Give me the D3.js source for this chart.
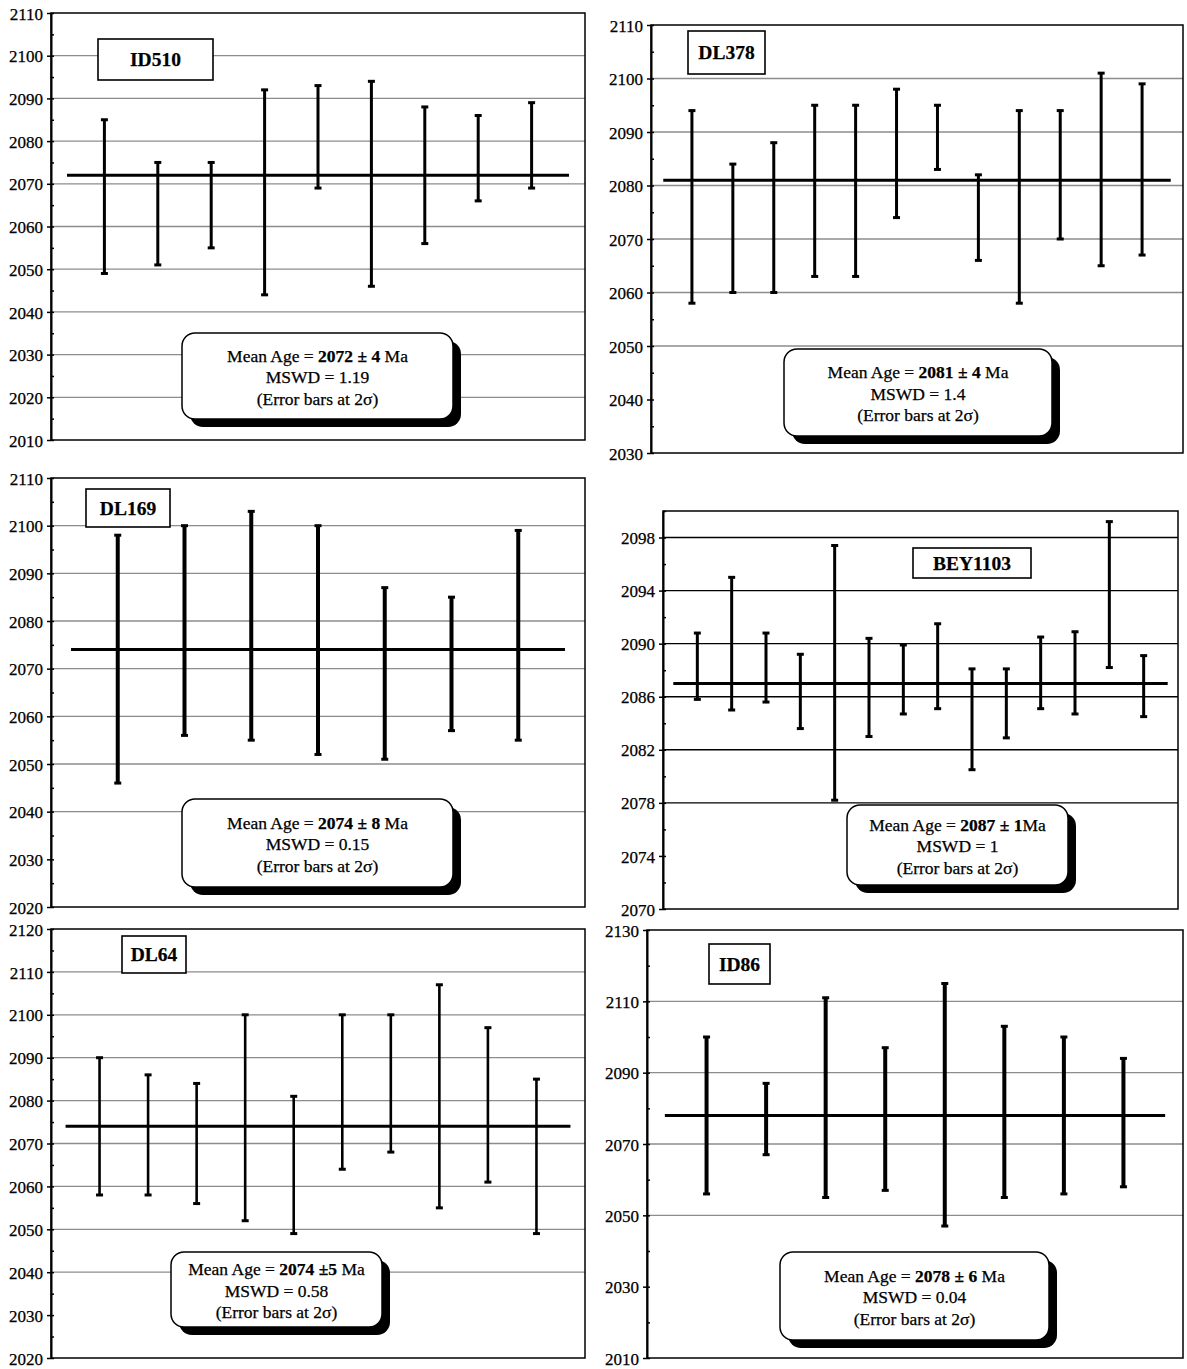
<!DOCTYPE html>
<html>
<head>
<meta charset="utf-8">
<script src="https://cdn.jsdelivr.net/npm/d3@7"></script>
<style>
  body { margin: 0; background: #fff; }
  svg { display: block; }
  text { font-family: "Liberation Serif", "Times New Roman", serif; fill: #000; stroke: #000; stroke-width: 0.25px; }
</style>
</head>
<body>
<svg id="fig" width="1187" height="1369"></svg>
<script>
// ---- Zircon spot ages (Ma): 2-sigma lower / upper limits per analysis ----
const sampleNames = ["ID510", "DL378", "DL169", "BEY1103", "DL64", "ID86"];

const id510Low  = [2049, 2051, 2055, 2044, 2069, 2046, 2056, 2066, 2069];
const id510High = [2085, 2075, 2075, 2092, 2093, 2094, 2088, 2086, 2089];

const dl378Low  = [2058, 2060, 2060, 2063, 2063, 2074, 2083, 2066, 2058, 2070, 2065, 2067];
const dl378High = [2094, 2084, 2088, 2095, 2095, 2098, 2095, 2082, 2094, 2094, 2101, 2099];

const dl169Low  = [2046, 2056, 2055, 2052, 2051, 2057, 2055];
const dl169High = [2098, 2100, 2103, 2100, 2087, 2085, 2099];

const bey1103Low  = [2085.8, 2085.0, 2085.6, 2083.6, 2078.2, 2083.0, 2084.7, 2085.1, 2080.5, 2082.9, 2085.1, 2084.7, 2088.2, 2084.5];
const bey1103High = [2090.8, 2095.0, 2090.8, 2089.2, 2097.4, 2090.4, 2089.9, 2091.5, 2088.1, 2088.1, 2090.5, 2090.9, 2099.2, 2089.1];

const dl64Low  = [2058, 2058, 2056, 2052, 2049, 2064, 2068, 2055, 2061, 2049];
const dl64High = [2090, 2086, 2084, 2100, 2081, 2100, 2100, 2107, 2097, 2085];

const id86Low  = [2056, 2067, 2055, 2057, 2047, 2055, 2056, 2058];
const id86High = [2100, 2087, 2111, 2097, 2115, 2103, 2100, 2094];

// ---- Weighted mean results ----
const meanAges = [2072, 2081, 2074, 2087, 2074, 2078];
const meanErrText = ["2072 \u00b1 4", "2081 \u00b1 4", "2074 \u00b1 8", "2087 \u00b1 1", "2074 \u00b15", "2078 \u00b1 6"];
const unitText = [" Ma", " Ma", " Ma", "Ma", " Ma", " Ma"];
const mswdValues = ["1.19", "1.4", "0.15", "1", "0.58", "0.04"];

// ---- Axis extents, tick labels and gridlines ----
const yDomains = [[2010, 2110], [2030, 2110], [2020, 2110], [2070, 2100], [2020, 2120], [2010, 2130]];
const tickLabels = [
  [2010, 2020, 2030, 2040, 2050, 2060, 2070, 2080, 2090, 2100, 2110],
  [2030, 2040, 2050, 2060, 2070, 2080, 2090, 2100, 2110],
  [2020, 2030, 2040, 2050, 2060, 2070, 2080, 2090, 2100, 2110],
  [2070, 2074, 2078, 2082, 2086, 2090, 2094, 2098],
  [2020, 2030, 2040, 2050, 2060, 2070, 2080, 2090, 2100, 2110, 2120],
  [2010, 2030, 2050, 2070, 2090, 2110, 2130]
];
const gridValues = [
  [2020, 2030, 2040, 2050, 2060, 2070, 2080, 2090, 2100],
  [2050, 2060, 2070, 2080, 2090, 2100],
  [2040, 2050, 2060, 2070, 2080, 2090, 2100],
  [2078, 2082, 2086, 2090, 2094, 2098],
  [2040, 2050, 2060, 2070, 2080, 2090, 2100, 2110],
  [2050, 2070, 2090, 2110]
];

const lows  = [id510Low, dl378Low, dl169Low, bey1103Low, dl64Low, id86Low];
const highs = [id510High, dl378High, dl169High, bey1103High, dl64High, id86High];

// ---- Page layout of each panel (plot frame, name box, statistics box) ----
const layout = [
  { frame: [51, 13, 585, 440],    nameBox: [98, 39, 115, 41],  statBox: [182, 333, 271, 86], barW: 3,   grid: "#8c8c8c" },
  { frame: [651, 25, 1183, 453],  nameBox: [688, 31, 77, 43],  statBox: [784, 349, 268, 87], barW: 3,   grid: "#8c8c8c" },
  { frame: [51, 478, 585, 907],   nameBox: [86, 489, 84, 38],  statBox: [182, 799, 271, 88], barW: 4,   grid: "#8c8c8c" },
  { frame: [663, 511, 1178, 909], nameBox: [913, 548, 118, 30], statBox: [847, 805, 221, 80], barW: 3,  grid: "#000" },
  { frame: [51, 929, 585, 1358],  nameBox: [122, 936, 64, 37], statBox: [171, 1252, 211, 75], barW: 2.6, grid: "#8c8c8c" },
  { frame: [647, 930, 1183, 1358], nameBox: [709, 944, 61, 40], statBox: [780, 1252, 269, 88], barW: 4, grid: "#8c8c8c" }
];

const svg = d3.select("#fig");

sampleNames.forEach((name, k) => {
  const L = layout[k];
  const [x0, y0, x1, y1] = L.frame;
  const lo = lows[k], hi = highs[k];
  const n = lo.length;
  const g = svg.append("g");

  const x = d3.scaleLinear().domain([0, n + 1]).range([x0, x1]);
  const y = d3.scaleLinear().domain(yDomains[k]).range([y1, y0]);

  // horizontal gridlines
  g.append("g").selectAll("line").data(gridValues[k]).join("line")
    .attr("x1", x0).attr("x2", x1)
    .attr("y1", d => y(d)).attr("y2", d => y(d))
    .attr("stroke", L.grid)
    .attr("stroke-width", k === 3 ? 1.4 : 1.3);

  // plot frame
  g.append("rect")
    .attr("x", x0).attr("y", y0)
    .attr("width", x1 - x0).attr("height", y1 - y0)
    .attr("fill", "none").attr("stroke", "#000").attr("stroke-width", 1.5);

  // left axis with labelled major ticks
  const ticks = tickLabels[k];
  const axisG = g.append("g")
    .attr("transform", `translate(${x0},0)`)
    .call(d3.axisLeft(y).tickValues(ticks).tickSizeInner(4).tickSizeOuter(0).tickPadding(4).tickFormat(d3.format("d")));
  axisG.attr("font-family", null).attr("font-size", null);
  axisG.select(".domain").attr("stroke-width", 2);
  axisG.selectAll(".tick line").attr("stroke-width", 1.5);
  axisG.selectAll(".tick text")
    .style("font-size", "17px")
    .attr("dy", "0.36em");

  // inward tick marks: majors plus the halfway minors
  const step = ticks[1] - ticks[0];
  const minors = ticks.map(t => t + step / 2).filter(t => t <= yDomains[k][1]);
  g.append("g")
    .attr("transform", `translate(${x0},0)`)
    .call(d3.axisRight(y).tickValues(ticks.concat(minors)).tickSize(3).tickFormat(""))
    .call(s => s.select(".domain").remove())
    .selectAll("line").attr("stroke-width", 1.5);

  // weighted mean line
  g.append("line")
    .attr("x1", x(0.3)).attr("x2", x(n + 0.7))
    .attr("y1", y(meanAges[k])).attr("y2", y(meanAges[k]))
    .attr("stroke", "#000").attr("stroke-width", 3);

  // error bars
  const idx = d3.range(n);
  const bars = g.append("g").selectAll("g").data(idx).join("g");
  bars.append("line")
    .attr("x1", i => x(i + 1)).attr("x2", i => x(i + 1))
    .attr("y1", i => y(lo[i])).attr("y2", i => y(hi[i]))
    .attr("stroke", "#000").attr("stroke-width", L.barW);
  const cap = 3.5;
  [lo, hi].forEach(arr => {
    bars.append("line")
      .attr("x1", i => x(i + 1) - cap).attr("x2", i => x(i + 1) + cap)
      .attr("y1", i => y(arr[i])).attr("y2", i => y(arr[i]))
      .attr("stroke", "#000").attr("stroke-width", 3);
  });

  // sample name box
  const [bx, by, bw, bh] = L.nameBox;
  g.append("rect")
    .attr("x", bx).attr("y", by).attr("width", bw).attr("height", bh)
    .attr("fill", "#fff").attr("stroke", "#000").attr("stroke-width", 1.6);
  g.append("text")
    .attr("x", bx + bw / 2).attr("y", by + bh / 2)
    .attr("text-anchor", "middle").attr("dominant-baseline", "central")
    .style("font-size", "19.5px").style("font-weight", "bold")
    .text(name);

  // statistics box with drop shadow
  const [sx, sy, sw, sh] = L.statBox;
  g.append("rect")
    .attr("x", sx + 8).attr("y", sy + 8).attr("width", sw).attr("height", sh)
    .attr("rx", 13).attr("fill", "#000");
  g.append("rect")
    .attr("x", sx).attr("y", sy).attr("width", sw).attr("height", sh)
    .attr("rx", 13).attr("fill", "#fff").attr("stroke", "#000").attr("stroke-width", 1.5);
  const cx = sx + sw / 2, cy = sy + sh / 2 + 1;
  const lh = 21.5;
  const t1 = g.append("text").attr("x", cx).attr("y", cy - lh)
    .attr("text-anchor", "middle").attr("dominant-baseline", "central")
    .style("font-size", "17.5px");
  t1.append("tspan").text("Mean Age = ");
  t1.append("tspan").style("font-weight", "bold").text(meanErrText[k]);
  t1.append("tspan").text(unitText[k]);
  g.append("text").attr("x", cx).attr("y", cy)
    .attr("text-anchor", "middle").attr("dominant-baseline", "central")
    .style("font-size", "17.5px")
    .text("MSWD = " + mswdValues[k]);
  g.append("text").attr("x", cx).attr("y", cy + lh)
    .attr("text-anchor", "middle").attr("dominant-baseline", "central")
    .style("font-size", "17.5px")
    .text("(Error bars at 2\u03c3)");
});
</script>
</body>
</html>
